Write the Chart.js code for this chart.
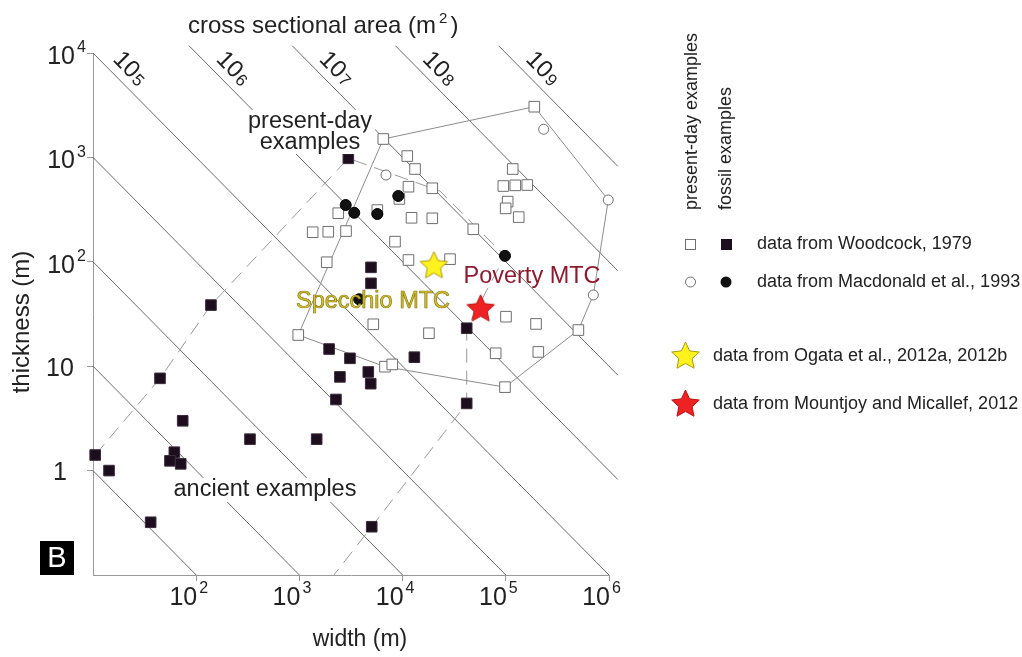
<!DOCTYPE html>
<html>
<head>
<meta charset="utf-8">
<title>MTC width vs thickness</title>
<script src="https://cdn.jsdelivr.net/npm/chart.js@4.4.0/dist/chart.umd.min.js"></script>
<style>
  html, body { margin: 0; padding: 0; background: #fff; }
  #wrap { width: 1022px; height: 657px; }
</style>
</head>
<body>
<div id="wrap"><canvas id="mtcChart" width="1022" height="657"></canvas></div>
<script>
// Woodcock 1979 - present-day examples (open squares): width (m), thickness (m)
const woodPresentW = [6500, 11100, 13200, 11400, 19400, 9300, 5690, 2380, 12200, 19400, 1345, 1905, 2830, 8440,
  188900, 116700, 94600, 123600, 161500, 104200, 99700, 133400, 48400, 28800, 1840, 11400, 5200, 18000,
  975, 6750, 7940, 100400, 196300, 79800, 206600, 505000, 98200];
const woodPresentT = [1500, 1030, 774, 524, 506, 400, 313, 292, 264, 261, 192, 194, 197, 156,
  3060, 774, 532, 540, 544, 377, 325, 268, 205, 106, 99, 104, 25.2, 20.7,
  19.9, 9.9, 10.4, 29.8, 25.4, 13.3, 13.7, 22.2, 6.3];

// Woodcock 1979 - fossil examples (filled squares)
const woodFossilW = [2980, 4940, 4940, 41800, 1940, 3090, 13000, 2470, 4650, 4910, 2260, 41800,
  139, 44.6, 74, 332, 1470, 61.4, 55.7, 70.8, 10.5, 14.3, 36.2, 5020];
const woodFossilT = [980, 88.5, 62.2, 23.1, 14.6, 11.9, 12.2, 7.9, 8.8, 6.8, 4.8, 4.4,
  38.5, 7.65, 3.0, 2.0, 2.0, 1.5, 1.24, 1.16, 1.41, 1.0, 0.32, 0.29];

// Macdonald et al. 1993
const macPresentW = [6900, 232800, 984000, 705000];
const macPresentT = [678, 1860, 391, 48.1];
const macFossilW = [9080, 2810, 3400, 5690, 98200, 3790];
const macFossilT = [427, 350, 295, 287, 114, 43.8];

// Ogata et al. 2012 (Specchio MTC) and Mountjoy & Micallef 2012 (Poverty MTC)
const ogataW = [20100];
const ogataT = [93];
const mountjoyW = [57100];
const mountjoyT = [35.9];

// envelopes
const presentHullW = [975, 6500, 188900, 984000, 705000, 505000, 98200, 6750, 975];
const presentHullT = [19.9, 1500, 3060, 391, 48.1, 22.2, 6.3, 9.9, 19.9];
const ancientEnvW = [10.5, 44.6, 139, 2980, 23000, 98200, 41800, 41800, 5020, 2160];
const ancientEnvT = [1.41, 7.65, 38.5, 980, 476, 114, 23.1, 4.4, 0.29, 0.1];

// iso cross sectional area lines (m2)
const isoAreas = [1e1, 1e2, 1e3, 1e4, 1e5, 1e6, 1e7, 1e8, 1e9];
const isoLabelAreas = [1e5, 1e6, 1e7, 1e8, 1e9];
const isoLabelExp = ['5', '6', '7', '8', '9'];

// axes
const xMin = 10, xMax = 1e6, yMin = 0.1, yMax = 1e4;
const xTickVals = [1e2, 1e3, 1e4, 1e5, 1e6];
const xTickLabels = ['10^2', '10^3', '10^4', '10^5', '10^6'];
const yTickVals = [1e4, 1e3, 1e2, 10, 1];
const yTickLabels = ['10^4', '10^3', '10^2', '10', '1'];

const FONT = '"Liberation Sans", Arial, Helvetica, sans-serif';

function pts(ws, ts) {
  return ws.map((w, i) => ({ x: w, y: ts[i] }));
}

// five pointed star used as point style
function makeStar(size, fill, stroke) {
  const c = document.createElement('canvas');
  c.width = size; c.height = size;
  const g = c.getContext('2d');
  const cx = size / 2, cy = size / 2 + 1, R = size / 2 - 1, r = R * 0.48;
  g.beginPath();
  for (let i = 0; i < 10; i++) {
    const rad = i % 2 === 0 ? R : r;
    const ang = -Math.PI / 2 + i * Math.PI / 5;
    const px = cx + rad * Math.cos(ang), py = cy + rad * Math.sin(ang);
    if (i === 0) g.moveTo(px, py); else g.lineTo(px, py);
  }
  g.closePath();
  g.fillStyle = fill; g.fill();
  g.strokeStyle = stroke; g.lineWidth = 1; g.stroke();
  return c;
}

const yellowStar = makeStar(31, '#fff21e', '#a89a10');
const redStar = makeStar(31, '#ee2222', '#b81414');

// iso-line endpoints from the constant area A = width * thickness
const topOver = Math.pow(10, 4.07), rightOver = Math.pow(10, 6.085);
function isoLine(A) {
  if (A <= 1e5) return [{ x: xMin, y: A / xMin }, { x: A / yMin, y: yMin }];
  return [{ x: A / topOver, y: topOver }, { x: rightOver, y: A / rightOver }];
}

const isoSets = isoAreas.map(A => ({
  type: 'line', data: isoLine(A), borderColor: '#6a6a6a', borderWidth: 1,
  pointRadius: 0, showLine: true, clip: false, order: 20
}));

function drawPowerLabel(ctx, base, exp, xRight, yMid, baseSize, expSize, expRaise) {
  ctx.textBaseline = 'middle';
  ctx.font = baseSize + 'px ' + FONT;
  ctx.textAlign = 'right';
  ctx.fillText(base, xRight, yMid);
  if (exp) {
    ctx.font = expSize + 'px ' + FONT;
    ctx.textAlign = 'left';
    ctx.fillText(exp, xRight + 2, yMid - expRaise);
  }
}

function boxedText(ctx, text, cx, cy) {
  const w = ctx.measureText(text).width;
  ctx.fillStyle = '#fff';
  ctx.fillRect(cx - w / 2 - 3, cy - 12, w + 6, 24);
  ctx.fillStyle = '#222';
  ctx.fillText(text, cx, cy);
}

const overlay = {
  id: 'overlay',
  afterDatasetsDraw(chart) {
    const { ctx, chartArea: a, scales: { x, y } } = chart;
    ctx.save();

    // iso-area labels, rotated along the lines
    const ang = Math.atan2((a.bottom - a.top), (a.right - a.left));
    ctx.fillStyle = '#222';
    isoLabelAreas.forEach((A, i) => {
      const px = x.getPixelForValue(A / yMax) + 37;
      const py = y.getPixelForValue(yMax) + 16;
      ctx.save();
      ctx.translate(px, py);
      ctx.rotate(ang);
      ctx.font = '24px ' + FONT;
      ctx.textAlign = 'left';
      ctx.textBaseline = 'middle';
      ctx.fillText('10', -19, 0);
      ctx.font = '17px ' + FONT;
      ctx.fillText(isoLabelExp[i], 9, 3);
      ctx.restore();
    });

    // annotations inside the plot
    ctx.font = '23.5px ' + FONT;
    ctx.textAlign = 'center';
    ctx.textBaseline = 'middle';
    boxedText(ctx, 'present-day', x.getPixelForValue(1268), y.getPixelForValue(2183));
    boxedText(ctx, 'examples', x.getPixelForValue(1268), y.getPixelForValue(1403));
    boxedText(ctx, 'ancient examples', x.getPixelForValue(464), y.getPixelForValue(0.652));

    ctx.lineWidth = 0.7;
    ctx.strokeStyle = '#877814';
    ctx.fillStyle = '#d6c42c';
    ctx.fillText('Specchio MTC', x.getPixelForValue(5170), y.getPixelForValue(41.2));
    ctx.strokeText('Specchio MTC', x.getPixelForValue(5170), y.getPixelForValue(41.2));
    ctx.fillStyle = '#8e1a2d';
    ctx.fillText('Poverty MTC', x.getPixelForValue(179500), y.getPixelForValue(71.5));

    // tick labels
    ctx.fillStyle = '#222';
    yTickVals.forEach((v, i) => {
      const py = y.getPixelForValue(v);
      const parts = yTickLabels[i].split('^');
      if (parts[1]) {
        drawPowerLabel(ctx, parts[0], parts[1], a.left - 18, py + 4, 25, 16, 9);
      } else {
        ctx.font = '25px ' + FONT;
        ctx.textAlign = 'center';
        ctx.textBaseline = 'middle';
        ctx.fillText(parts[0], a.left - 33, py + 3);
      }
    });
    xTickVals.forEach((v, i) => {
      const px = x.getPixelForValue(v);
      const parts = xTickLabels[i].split('^');
      drawPowerLabel(ctx, parts[0], parts[1], px + 1, a.bottom + 23, 25, 16, 9);
    });

    // axis titles
    ctx.font = '23px ' + FONT;
    ctx.textAlign = 'center';
    ctx.textBaseline = 'middle';
    ctx.fillText('width (m)', 360, a.bottom + 65);
    ctx.save();
    ctx.translate(22, 322);
    ctx.rotate(-Math.PI / 2);
    ctx.font = '24px ' + FONT;
    ctx.fillText('thickness (m)', 0, 0);
    ctx.restore();

    ctx.font = '24px ' + FONT;
    ctx.textAlign = 'left';
    const t1 = 'cross sectional area (m';
    const w1 = ctx.measureText(t1).width;
    const tx = 188;
    ctx.fillText(t1, tx, 26);
    ctx.font = '15px ' + FONT;
    ctx.fillText('2', tx + w1 + 3, 19);
    const w2 = ctx.measureText('2').width;
    ctx.font = '24px ' + FONT;
    ctx.fillText(')', tx + w1 + w2 + 6, 26);

    // panel letter
    ctx.fillStyle = '#000';
    ctx.fillRect(40, 541, 34, 34);
    ctx.fillStyle = '#fff';
    ctx.font = '29px ' + FONT;
    ctx.textAlign = 'center';
    ctx.fillText('B', 57, 559);

    // legend
    ctx.fillStyle = '#222';
    ctx.font = '18px ' + FONT;
    ctx.textAlign = 'left';
    ctx.save();
    ctx.translate(692, 210);
    ctx.rotate(-Math.PI / 2);
    ctx.fillText('present-day examples', 0, 0);
    ctx.restore();
    ctx.save();
    ctx.translate(726, 210);
    ctx.rotate(-Math.PI / 2);
    ctx.fillText('fossil examples', 0, 0);
    ctx.restore();

    ctx.lineWidth = 1;
    ctx.strokeStyle = '#6e6e6e';
    ctx.fillStyle = '#fff';
    ctx.fillRect(685, 239, 10, 10);
    ctx.strokeRect(685.5, 239.5, 10, 10);
    ctx.fillStyle = '#1d0e1e';
    ctx.fillRect(721, 239, 11, 11);
    ctx.beginPath();
    ctx.arc(690.5, 282, 5, 0, Math.PI * 2);
    ctx.fillStyle = '#fff'; ctx.fill(); ctx.stroke();
    ctx.beginPath();
    ctx.arc(726, 282, 5.5, 0, Math.PI * 2);
    ctx.fillStyle = '#111'; ctx.fill();
    ctx.drawImage(yellowStar, 670, 340);
    ctx.drawImage(redStar, 670, 388);

    ctx.fillStyle = '#222';
    ctx.font = '18px ' + FONT;
    ctx.textAlign = 'left';
    ctx.textBaseline = 'middle';
    ctx.fillText('data from Woodcock, 1979', 757, 244);
    ctx.fillText('data from Macdonald et al., 1993', 757, 282);
    ctx.fillText('data from Ogata et al., 2012a, 2012b', 713, 356);
    ctx.fillText('data from Mountjoy and Micallef, 2012', 713, 404);

    ctx.restore();
  }
};

const chart = new Chart(document.getElementById('mtcChart'), {
  type: 'scatter',
  data: {
    datasets: [
      { label: 'Mountjoy and Micallef, 2012', data: pts(mountjoyW, mountjoyT), pointStyle: redStar, order: 1, clip: false },
      { label: 'Ogata et al., 2012', data: pts(ogataW, ogataT), pointStyle: yellowStar, order: 2, clip: false },
      { label: 'Macdonald fossil', data: pts(macFossilW, macFossilT), pointStyle: 'circle', pointRadius: 5.5,
        backgroundColor: '#111', borderColor: '#000', borderWidth: 1, order: 3, clip: false },
      { label: 'Macdonald present-day', data: pts(macPresentW, macPresentT), pointStyle: 'circle', pointRadius: 5,
        backgroundColor: '#fff', borderColor: '#6e6e6e', borderWidth: 1, order: 4, clip: false },
      { label: 'Woodcock fossil', data: pts(woodFossilW, woodFossilT), pointStyle: 'rect', pointRadius: 7.5,
        backgroundColor: '#1d0e1e', borderColor: '#3b2b3b', borderWidth: 1, order: 5, clip: false },
      { label: 'Woodcock present-day', data: pts(woodPresentW, woodPresentT), pointStyle: 'rect', pointRadius: 7.5,
        backgroundColor: '#fff', borderColor: '#6e6e6e', borderWidth: 1, order: 6, clip: false },
      { type: 'line', label: 'present-day envelope', data: pts(presentHullW, presentHullT), borderColor: '#8c8c8c',
        borderWidth: 1, pointRadius: 0, showLine: true, clip: false, order: 10 },
      { type: 'line', label: 'ancient envelope', data: pts(ancientEnvW, ancientEnvT), borderColor: '#9a9a9a',
        borderWidth: 1, borderDash: [14, 8], pointRadius: 0, showLine: true, clip: false, order: 11 }
    ].concat(isoSets)
  },
  options: {
    responsive: false,
    animation: false,
    devicePixelRatio: 1,
    layout: { padding: { left: 0, right: 413, top: 53, bottom: 0 } },
    plugins: { legend: { display: false }, tooltip: { enabled: false } },
    scales: {
      x: {
        type: 'logarithmic', min: xMin, max: xMax,
        afterBuildTicks: s => { s.ticks = xTickVals.map(v => ({ value: v })); },
        afterFit: s => { s.height = 82; },
        ticks: { display: false },
        grid: { display: true, drawOnChartArea: false, drawTicks: true, tickLength: 6, color: '#999' },
        border: { display: true, color: '#999', width: 1 }
      },
      y: {
        type: 'logarithmic', min: yMin, max: yMax,
        afterBuildTicks: s => { s.ticks = yTickVals.map(v => ({ value: v })); },
        afterFit: s => { s.width = 93; },
        ticks: { display: false },
        grid: { display: true, drawOnChartArea: false, drawTicks: true, tickLength: 6, color: '#999' },
        border: { display: true, color: '#999', width: 1 }
      }
    }
  },
  plugins: [overlay]
});
</script>
</body>
</html>
